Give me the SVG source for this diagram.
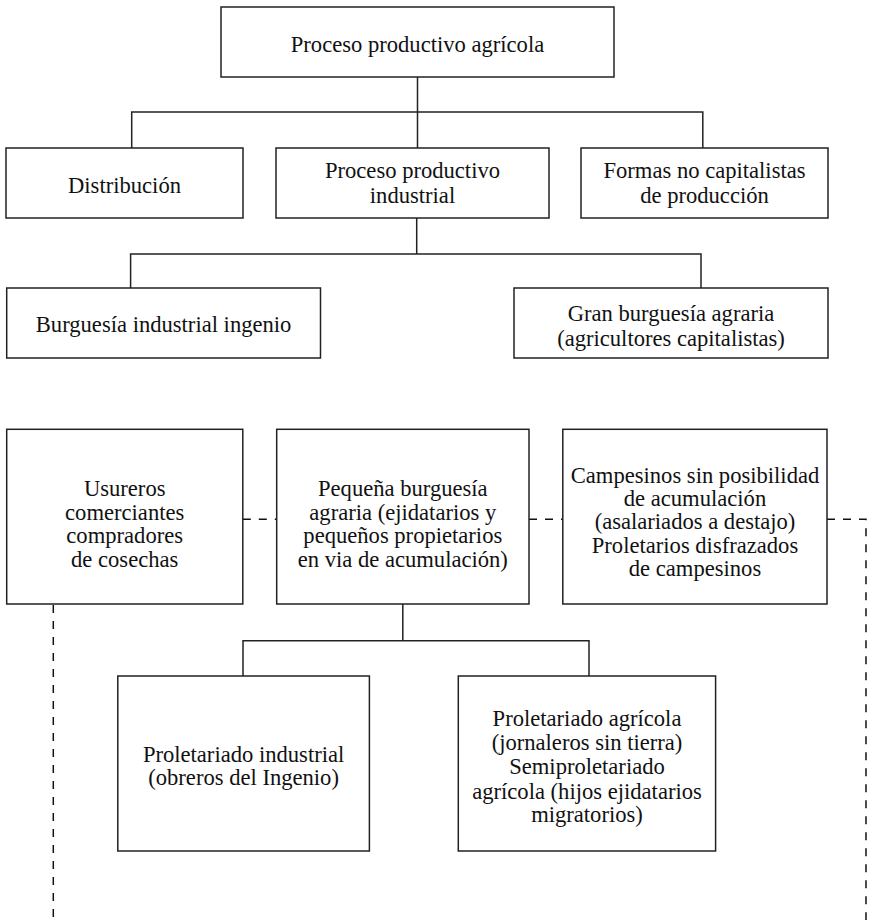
<svg xmlns="http://www.w3.org/2000/svg" width="871" height="920" viewBox="0 0 871 920">
<style>
.box{fill:#fff;stroke:#222;stroke-width:1.5}
.ln{fill:none;stroke:#222;stroke-width:1.5}
.dash{fill:none;stroke:#111;stroke-width:1.5;stroke-dasharray:8 8}
.t{font-family:'Liberation Serif','DejaVu Serif',serif;font-size:22.6px;fill:#111;text-anchor:middle}
</style>
<rect width="871" height="920" fill="#fff"/>
<g id="connectors">
<path class="ln" d="M417.5 77V112M131.7 148V112H702.8V148M417.5 112V148"/>
<path class="ln" d="M416.7 218V254M130.6 288V254H701V288"/>
<path class="ln" d="M402.8 604V640.7M243 676V640.7H589V676"/>
<path class="dash" d="M242.8 519.3H276.7"/>
<path class="dash" d="M529 519.3H562.8"/>
<path class="dash" d="M827 519.3H866V920"/>
<path class="dash" d="M53.3 605V920"/>
</g>
<g class="t">
<g id="n1"><rect class="box" x="221" y="7" width="393" height="70"/><text x="417.5" y="52">Proceso productivo agrícola</text></g>
<g id="n2"><rect class="box" x="6" y="148" width="237" height="70"/><text x="124.5" y="193">Distribución</text></g>
<g id="n3"><rect class="box" x="276" y="148" width="273" height="70"/><text x="412.5" y="178">Proceso productivo</text><text x="412.5" y="203">industrial</text></g>
<g id="n4"><rect class="box" x="581" y="148" width="247" height="70"/><text x="704.5" y="178">Formas no capitalistas</text><text x="704.5" y="203">de producción</text></g>
<g id="n5"><rect class="box" x="6.7" y="288" width="313.8" height="70"/><text x="163.6" y="332">Burguesía industrial ingenio</text></g>
<g id="n6"><rect class="box" x="514" y="288" width="314" height="70"/><text x="671" y="321">Gran burguesía agraria</text><text x="671" y="346">(agricultores capitalistas)</text></g>
<g id="n7"><rect class="box" x="6.7" y="429.3" width="236.1" height="174.7"/><text x="124.7" y="496">Usureros</text><text x="124.7" y="519.5">comerciantes</text><text x="124.7" y="543">compradores</text><text x="124.7" y="566.5">de cosechas</text></g>
<g id="n8"><rect class="box" x="276.7" y="429.3" width="252.3" height="174.7"/><text x="402.8" y="496">Pequeña burguesía</text><text x="402.8" y="519.5">agraria (ejidatarios y</text><text x="402.8" y="543">pequeños propietarios</text><text x="402.8" y="566.5">en via de acumulación)</text></g>
<g id="n9"><rect class="box" x="562.8" y="429.3" width="264.2" height="174.7"/><text x="695" y="482.7">Campesinos sin posibilidad</text><text x="695" y="506">de acumulación</text><text x="695" y="529.3">(asalariados a destajo)</text><text x="695" y="552.7">Proletarios disfrazados</text><text x="695" y="576">de campesinos</text></g>
<g id="n10"><rect class="box" x="117.8" y="676" width="251.6" height="175"/><text x="243.6" y="762">Proletariado industrial</text><text x="243.6" y="785.3">(obreros del Ingenio)</text></g>
<g id="n11"><rect class="box" x="458.3" y="676" width="257.3" height="175"/><text x="587" y="726">Proletariado agrícola</text><text x="587" y="750.3">(jornaleros sin tierra)</text><text x="587" y="774.3">Semiproletariado</text><text x="587" y="798.7">agrícola (hijos ejidatarios</text><text x="587" y="822">migratorios)</text></g>
</g>
</svg>
